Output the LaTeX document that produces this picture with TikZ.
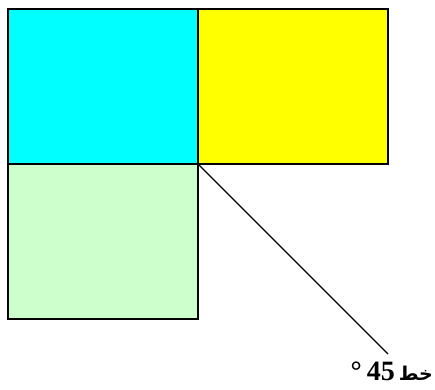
\documentclass[tikz,border=0pt]{standalone}
\usepackage{fontspec}
\setmainfont{Liberation Serif}
\newfontfamily\arabicfont[Script=Arabic]{DejaVu Sans}
\TeXXeTstate=1
\usepackage{tikz}
\definecolor{tilecyan}{RGB}{0,255,255}
\definecolor{tileyellow}{RGB}{255,255,0}
\definecolor{tilegreen}{RGB}{204,255,204}

\begin{document}
\begin{tikzpicture}[x=1pt, y=1pt,
  tile/.style={draw, line width=1.2pt, minimum width=190pt, minimum height=155pt, inner sep=0pt}]
			\useasboundingbox (0, 0) rectangle (435, 389);

			\node [tile, fill=tilecyan] (cyanbox) at (103, 302.5) {};
			\node [tile, fill=tileyellow] (yellowbox) at (293, 302.5) {};
			\node [tile, fill=tilegreen] (greenbox) at (103, 147.5) {};

			\coordinate (lineend) at (388, 35);
			\draw [line width=1.2pt] (cyanbox.south east) -- (lineend);

			\node [font=\fontsize{28}{32}\selectfont\bfseries, anchor=east, inner sep=0pt] (label) at (433, 18)
			{\beginR{\arabicfont\fontsize{19}{24}\selectfont خط}\hspace{4pt}\beginL 45\endL{}\hspace{5pt}°\endR};
		\end{tikzpicture}
\end{document}
